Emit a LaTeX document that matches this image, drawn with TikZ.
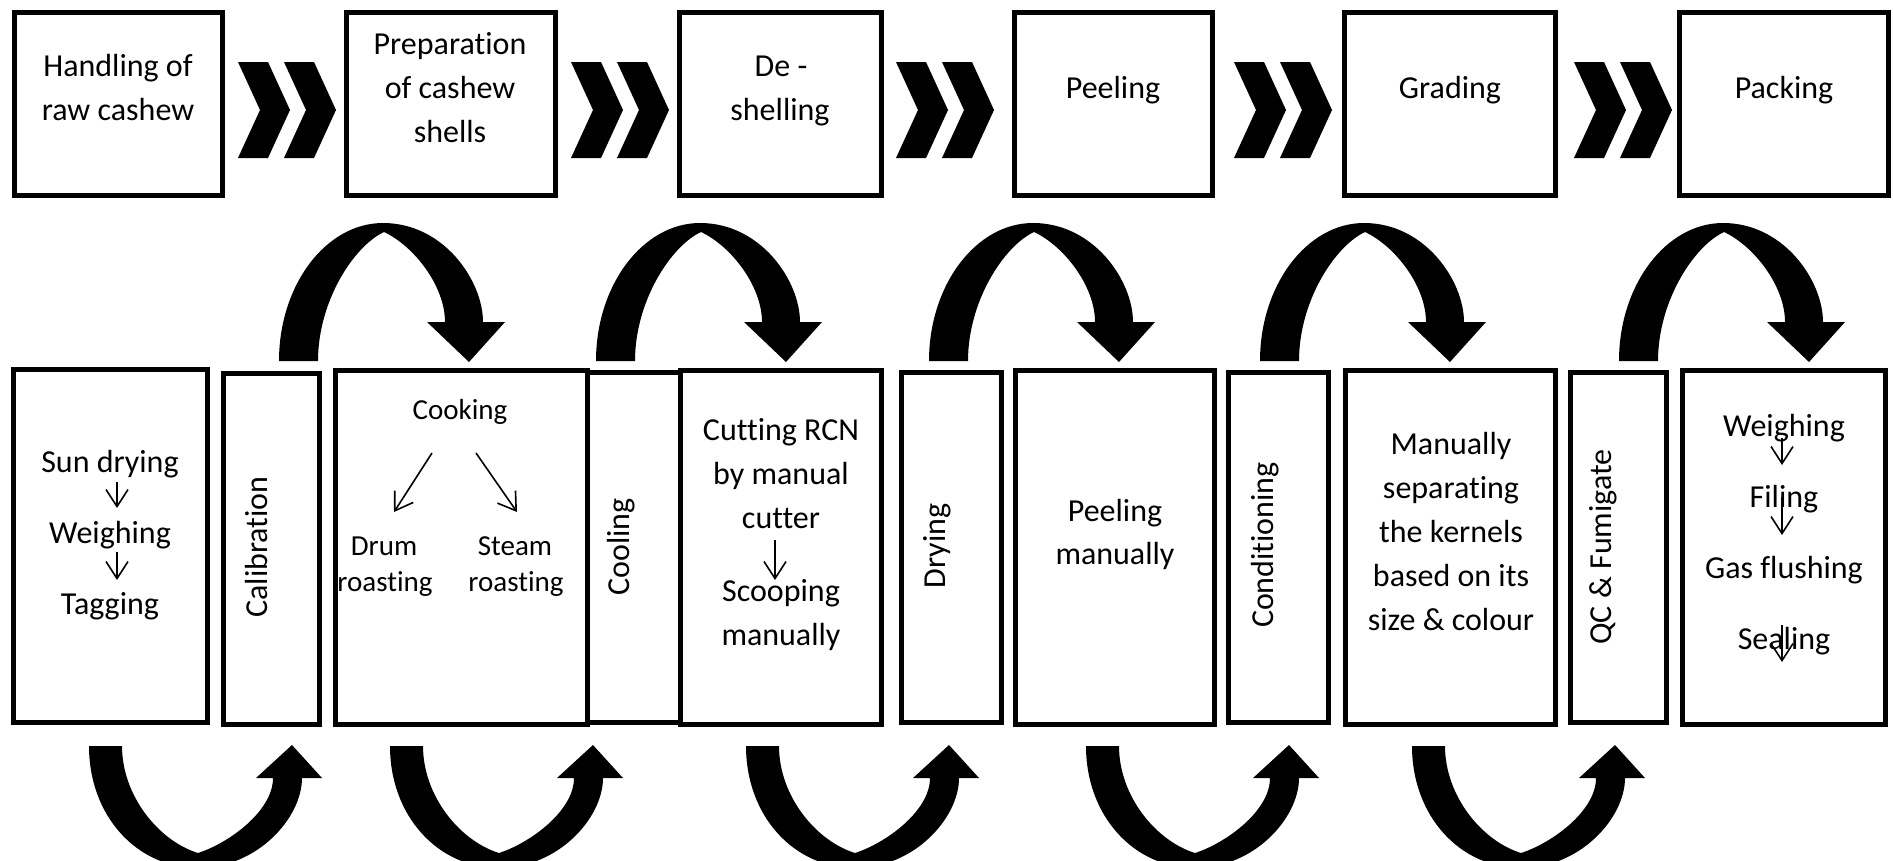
\documentclass[tikz,border=0pt]{standalone}
\usepackage{fontspec}
\setmainfont{Carlito}[Ligatures=NoCommon]
\usetikzlibrary{arrows.meta}
\begin{document}
\begin{tikzpicture}[x=1pt,y=-1pt,
  box/.style={draw=black, line width=5pt, inner sep=0pt, outer sep=0pt},
  txt/.style={font=\fontsize{32}{44}\selectfont, inner sep=0pt, anchor=base},
  stxt/.style={font=\fontsize{29}{36}\selectfont, inner sep=0pt, anchor=base},
  rtxt/.style={txt, rotate=90},
  sarr/.style={line width=1.6pt, -{Straight Barb[length=17pt,width=22pt]}},
  blk/.style={fill=black, draw=none}
]
\useasboundingbox (0,0) rectangle (1893,860);
\fill[white] (0,0) rectangle (1893,860);

% ---------- top row boxes ----------
\node[box, minimum width=208pt, minimum height=183pt] (T1) at (118,103.5) {};
\node[box, minimum width=209pt, minimum height=183pt] (T2) at (450.5,103.5) {};
\node[box, minimum width=202pt, minimum height=183pt] (T3) at (780,103.5) {};
\node[box, minimum width=198pt, minimum height=183pt] (T4) at (1113,103.5) {};
\node[box, minimum width=211pt, minimum height=183pt] (T5) at (1449.5,103.5) {};
\node[box, minimum width=209pt, minimum height=183pt] (T6) at (1783.5,103.5) {};

\node[txt] (t1a) at (118,76) {Handling of};
\node[txt] (t1b) at (118,120) {raw cashew};
\node[txt] (t2a) at (450,54) {Preparation};
\node[txt] (t2b) at (450,98) {of cashew};
\node[txt] (t2c) at (450,142) {shells};
\node[txt] (t3a) at (781,76) {De -};
\node[txt] (t3b) at (780,120) {shelling};
\node[txt] (t4) at (1113,98) {Peeling};
\node[txt] (t5) at (1450,98) {Grading};
\node[txt] (t6) at (1784,98) {Packing};

% ---------- chevrons ----------
\foreach \cx in {238,571,896,1234,1574}{
  \foreach \dx in {0,46}{
    \fill[blk, shift={(\cx+\dx,62)}] (0,0) -- (30,0) -- (52,48) -- (30,96) -- (0,96) -- (22,48) -- cycle;
  }
}

% ---------- bottom row boxes ----------
\node[box, minimum width=194pt, minimum height=353pt] (A) at (110.5,545.5) {};
\node[box, minimum width=96pt,  minimum height=351pt] (B) at (271,548.5) {};
\node[box, minimum width=252pt, minimum height=354pt] (C) at (461,547) {};
\node[box, minimum width=93pt,  minimum height=350pt] (D) at (633.5,547) {};
\node[box, minimum width=201pt, minimum height=354pt] (E) at (780.5,547) {};
\node[box, minimum width=100pt, minimum height=350pt] (F) at (951,547) {};
\node[box, minimum width=199pt, minimum height=354pt] (G) at (1114.5,547) {};
\node[box, minimum width=100pt, minimum height=350pt] (H) at (1278,547) {};
\node[box, minimum width=210pt, minimum height=354pt] (I) at (1450,547) {};
\node[box, minimum width=96pt,  minimum height=350pt] (J) at (1618,547) {};
\node[box, minimum width=203pt, minimum height=354pt] (K) at (1783.5,547) {};

% A
\node[txt] (a1) at (110,472) {Sun drying};
\node[txt] (a2) at (110,543) {Weighing};
\node[txt] (a3) at (110,614) {Tagging};
\coordinate (a1s) at (117,482); \coordinate (a2n) at (117,508);
\coordinate (a2s) at (117,552); \coordinate (a3n) at (117,580);
\draw[sarr] (a1s) -- (a2n);
\draw[sarr] (a2s) -- (a3n);
% B
\node[rtxt] (b1) at (267,547) {Calibration};
% C
\node[stxt] (c0) at (460,419) {Cooking};
\node[stxt] (c1) at (384,555) {Drum};
\node[stxt] (c2) at (385,591) {roasting};
\node[stxt] (c3) at (515,555) {Steam};
\node[stxt] (c4) at (516,591) {roasting};
\coordinate (c0l) at (432,453); \coordinate (c1n) at (394,512);
\coordinate (c0r) at (476,453); \coordinate (c3n) at (517,512);
\draw[sarr] (c0l) -- (c1n);
\draw[sarr] (c0r) -- (c3n);
% D
\node[rtxt] (d1) at (629,547) {Cooling};
% E
\node[txt] (e1) at (781,440) {Cutting RCN};
\node[txt] (e2) at (781,484) {by manual};
\node[txt] (e3) at (781,528) {cutter};
\node[txt] (e4) at (781,601) {Scooping};
\node[txt] (e5) at (781,645) {manually};
\coordinate (e3s) at (775,540); \coordinate (e4n) at (775,580);
\draw[sarr] (e3s) -- (e4n);
% F
\node[rtxt] (f1) at (945,546) {Drying};
% G
\node[txt] (g1) at (1115,521) {Peeling};
\node[txt] (g2) at (1115,564) {manually};
% H
\node[rtxt] (h1) at (1273,545) {Conditioning};
% I
\node[txt] (i1) at (1451,454) {Manually};
\node[txt] (i2) at (1451,498) {separating};
\node[txt] (i3) at (1451,542) {the kernels};
\node[txt] (i4) at (1451,586) {based on its};
\node[txt] (i5) at (1451,630) {size \& colour};
% J
\node[rtxt] (j1) at (1611,547) {QC \& Fumigate};
% K
\node[txt] (k1) at (1784,436) {Weighing};
\node[txt] (k2) at (1784,507) {Filing};
\node[txt] (k3) at (1784,578) {Gas flushing};
\node[txt] (k4) at (1784,649) {Sealing};
\coordinate (k1s) at (1782,438); \coordinate (k2n) at (1782,465);
\coordinate (k2s) at (1782,497); \coordinate (k3n) at (1782,535);
\coordinate (k4s) at (1782,625); \coordinate (k4e) at (1782,662);
\draw[sarr] (k1s) -- (k2n);
\draw[sarr] (k2s) -- (k3n);
\draw[sarr] (k4s) -- (k4e);

% ---------- curved arrows over the gaps (top) ----------
\foreach \ox in {279,596,929,1260,1619}{
  \fill[blk, shift={(\ox,361)}]
    (0,0) .. controls (0,-76) and (47,-138) .. (104,-138)
    .. controls (165,-138) and (204,-80) .. (204,-39)
    -- (226,-39) -- (190,1) -- (148,-39) -- (166,-39)
    .. controls (166,-75) and (135,-115) .. (105,-129)
    .. controls (75,-115) and (39,-60) .. (39,0) -- cycle;
}

% ---------- curved arrows below (bottom) ----------
\foreach \ox in {89,390,746,1086,1412}{
  \fill[blk, shift={(\ox,746)}]
    (0,0) .. controls (0,70) and (48,122) .. (109,122)
    .. controls (168,122) and (213,72) .. (213,32)
    -- (233,32) -- (203,-1) -- (167,32) -- (184,32)
    .. controls (184,65) and (140,97) .. (109,107)
    .. controls (70,95) and (33,50) .. (33,0) -- cycle;
}
\end{tikzpicture}
\end{document}
